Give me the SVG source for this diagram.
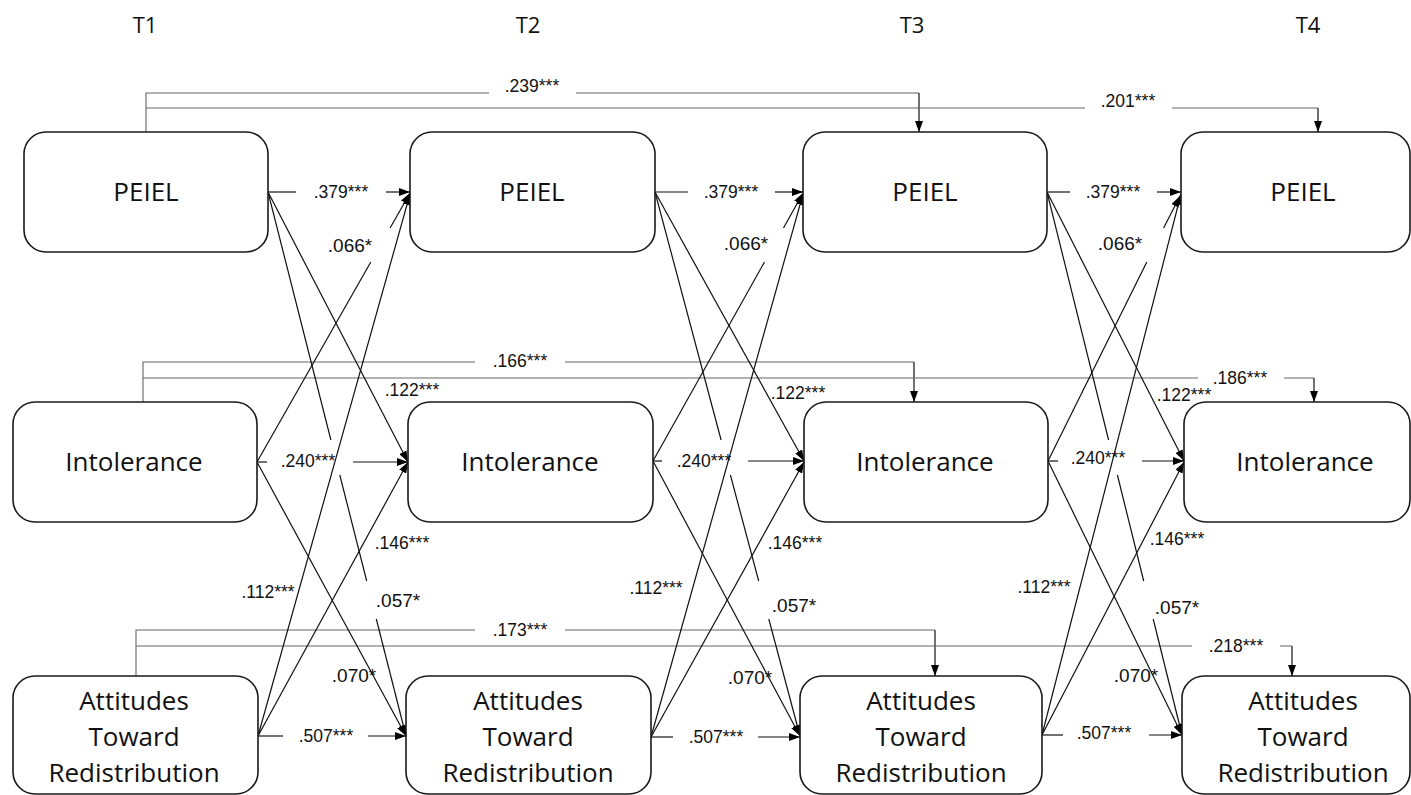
<svg xmlns="http://www.w3.org/2000/svg" width="1411" height="795" viewBox="0 0 1411 795">
<defs>
<marker id="ah" markerWidth="11" markerHeight="8" refX="11" refY="4" orient="auto" markerUnits="userSpaceOnUse">
<path d="M0,0 L11,4 L0,8 z" fill="#000"/>
</marker>
<style>
.box{fill:#fff;stroke:#1a1a1a;stroke-width:1.6}
.nt{font-family:"Open Sans","DejaVu Sans",sans-serif;font-size:26px;fill:#111;text-anchor:middle}
.tt{font-family:"Open Sans","DejaVu Sans",sans-serif;font-size:22px;fill:#111;text-anchor:middle}
.lb{font-family:"Liberation Sans",Arial,sans-serif;font-size:17.5px;fill:#111;text-anchor:middle}
.lb1{font-size:19px}
.c{fill:none;stroke:#111;stroke-width:1.2}
.l{fill:none;stroke:#666;stroke-width:1.1}
.a{marker-end:url(#ah)}
</style>
</defs>
<rect width="1411" height="795" fill="#fff"/>

<g id="time-labels">
<text class="tt" x="145" y="33">T1</text>
<text class="tt" x="528" y="33">T2</text>
<text class="tt" x="912" y="33">T3</text>
<text class="tt" x="1308" y="33">T4</text>
</g>

<g id="connectors">
<!-- long stability paths -->
<path class="l" d="M146,132 V93 H489 M576,93 H919"/>
<path class="c a" d="M919,93 V132"/>
<path class="l" d="M146,108 H1085 M1172,108 H1318"/>
<path class="c a" d="M1318,108 V132"/>
<path class="l" d="M143,402 V362 H475 M565,362 H914"/>
<path class="c a" d="M914,362 V402"/>
<path class="l" d="M143,378 H1198 M1284,378 H1314"/>
<path class="c a" d="M1314,378 V402"/>
<path class="l" d="M136,676 V630 H475 M565,630 H935"/>
<path class="c a" d="M935,630 V676"/>
<path class="l" d="M136,646 H1192 M1280,646 H1292"/>
<path class="c a" d="M1292,646 V676"/>

<!-- T1 -> T2 -->
<path class="c" d="M268,192 H296"/><path class="c a" d="M386,192 H410"/>
<path class="c" d="M257,462 H267"/><path class="c a" d="M353,462 H408"/>
<path class="c" d="M258,736 H283"/><path class="c a" d="M368,736 H406"/>
<path class="c a" d="M268,192 L408,462"/>
<path class="c" d="M268,192 L330.9,440 M339.8,475 L366.7,581"/><path class="c a" d="M376.3,619 L406,736"/>
<path class="c" d="M257,462 L370.8,262"/><path class="c a" d="M390.1,228 L410,193"/>
<path class="c a" d="M258,736 L410,194"/>
<path class="c a" d="M258,736 L408,462"/>
<path class="c a" d="M257,462 L406,736"/>

<!-- T2 -> T3 -->
<path class="c" d="M655,192 H688"/><path class="c a" d="M775,192 H803"/>
<path class="c" d="M653,461 H662"/><path class="c a" d="M748,461 H804"/>
<path class="c" d="M651,737 H673"/><path class="c a" d="M758,737 H800"/>
<path class="c a" d="M655,192 L804,461"/>
<path class="c" d="M655,192 L721.1,440 M730.4,475 L758.7,581"/><path class="c a" d="M768.8,619 L800,736"/>
<path class="c" d="M653,461 L764.5,262"/><path class="c a" d="M783.5,228 L803,193"/>
<path class="c a" d="M651,737 L803,194"/>
<path class="c a" d="M651,737 L804,462"/>
<path class="c a" d="M653,461 L800,736"/>

<!-- T3 -> T4 -->
<path class="c" d="M1047,192 H1070"/><path class="c a" d="M1157,192 H1181"/>
<path class="c" d="M1048,461 H1058"/><path class="c a" d="M1142,461 H1184"/>
<path class="c" d="M1042,735 H1063"/><path class="c a" d="M1149,735 H1182"/>
<path class="c a" d="M1047,192 L1184,461"/>
<path class="c" d="M1047,192 L1108.6,440 M1117.4,475 L1143.7,581"/><path class="c a" d="M1153.2,619 L1182,735"/>
<path class="c" d="M1048,461 L1146.8,262"/><path class="c a" d="M1163.6,228 L1180,196"/>
<path class="c a" d="M1042,735 L1181,194"/>
<path class="c a" d="M1042,735 L1184,462"/>
<path class="c a" d="M1048,461 L1182,735"/>

<!-- labels -->
<text class="lb" x="532" y="92">.239***</text>
<text class="lb" x="1128" y="107">.201***</text>
<text class="lb" x="520" y="367">.166***</text>
<text class="lb" x="1240" y="384">.186***</text>
<text class="lb" x="520" y="636">.173***</text>
<text class="lb" x="1236" y="652">.218***</text>

<text class="lb" x="341" y="198">.379***</text>
<text class="lb" x="308" y="467">.240***</text>
<text class="lb" x="326" y="742">.507***</text>
<text class="lb lb1" x="350" y="252">.066*</text>
<text class="lb" x="412" y="396">.122***</text>
<text class="lb" x="402" y="549">.146***</text>
<text class="lb" x="268" y="598">.112***</text>
<text class="lb lb1" x="398" y="607">.057*</text>
<text class="lb lb1" x="354" y="682">.070*</text>

<text class="lb" x="731" y="198">.379***</text>
<text class="lb" x="704" y="467">.240***</text>
<text class="lb" x="716" y="743">.507***</text>
<text class="lb lb1" x="746" y="250">.066*</text>
<text class="lb" x="798" y="399">.122***</text>
<text class="lb" x="795" y="549">.146***</text>
<text class="lb" x="656" y="594">.112***</text>
<text class="lb lb1" x="794" y="612">.057*</text>
<text class="lb lb1" x="750" y="684">.070*</text>

<text class="lb" x="1113" y="198">.379***</text>
<text class="lb" x="1098" y="464">.240***</text>
<text class="lb" x="1104" y="739">.507***</text>
<text class="lb lb1" x="1120" y="250">.066*</text>
<text class="lb" x="1184" y="401">.122***</text>
<text class="lb" x="1177" y="545">.146***</text>
<text class="lb" x="1044" y="593">.112***</text>
<text class="lb lb1" x="1177" y="614">.057*</text>
<text class="lb lb1" x="1136" y="682">.070*</text>
</g>

<g id="peiel-t1"><rect class="box" x="24" y="132" width="244" height="120" rx="22"/><text class="nt" x="146" y="201">PEIEL</text></g>
<g id="peiel-t2"><rect class="box" x="410" y="132" width="245" height="120" rx="22"/><text class="nt" x="532" y="201">PEIEL</text></g>
<g id="peiel-t3"><rect class="box" x="803" y="132" width="244" height="120" rx="22"/><text class="nt" x="925" y="201">PEIEL</text></g>
<g id="peiel-t4"><rect class="box" x="1181" y="132" width="229" height="120" rx="22"/><text class="nt" x="1303" y="201">PEIEL</text></g>

<g id="intol-t1"><rect class="box" x="13" y="402" width="244" height="120" rx="22"/><text class="nt" x="134" y="471">Intolerance</text></g>
<g id="intol-t2"><rect class="box" x="408" y="402" width="245" height="120" rx="22"/><text class="nt" x="530" y="471">Intolerance</text></g>
<g id="intol-t3"><rect class="box" x="804" y="402" width="244" height="120" rx="22"/><text class="nt" x="925" y="471">Intolerance</text></g>
<g id="intol-t4"><rect class="box" x="1184" y="402" width="226" height="120" rx="22"/><text class="nt" x="1305" y="471">Intolerance</text></g>

<g id="att-t1"><rect class="box" x="13" y="676" width="245" height="118" rx="22"/><text class="nt" x="134" y="710">Attitudes</text><text class="nt" x="134" y="746">Toward</text><text class="nt" x="134" y="782">Redistribution</text></g>
<g id="att-t2"><rect class="box" x="406" y="676" width="245" height="118" rx="22"/><text class="nt" x="528" y="710">Attitudes</text><text class="nt" x="528" y="746">Toward</text><text class="nt" x="528" y="782">Redistribution</text></g>
<g id="att-t3"><rect class="box" x="800" y="676" width="242" height="118" rx="22"/><text class="nt" x="921" y="710">Attitudes</text><text class="nt" x="921" y="746">Toward</text><text class="nt" x="921" y="782">Redistribution</text></g>
<g id="att-t4"><rect class="box" x="1182" y="676" width="228" height="118" rx="22"/><text class="nt" x="1303" y="710">Attitudes</text><text class="nt" x="1303" y="746">Toward</text><text class="nt" x="1303" y="782">Redistribution</text></g>
</svg>
